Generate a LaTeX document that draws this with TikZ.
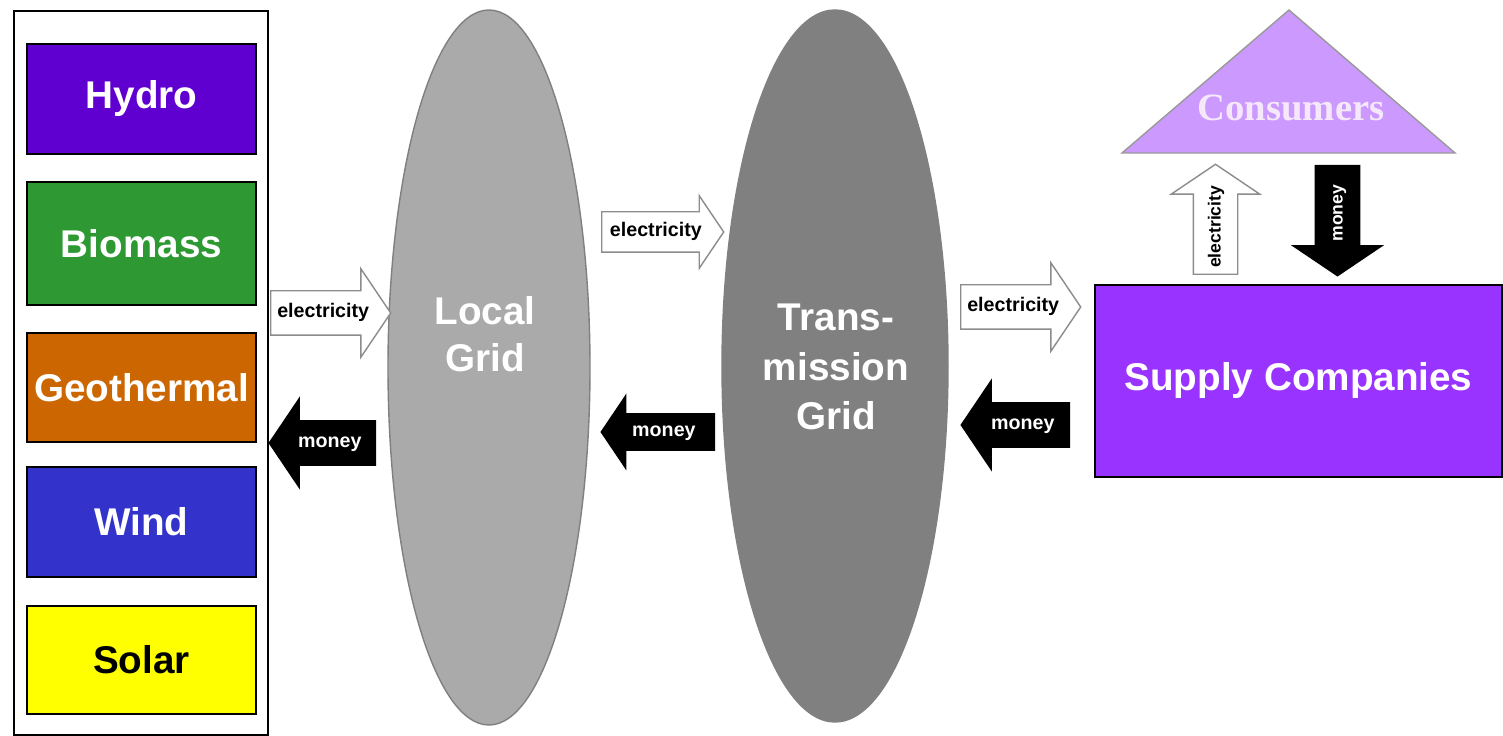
\documentclass[tikz,border=0pt]{standalone}
\usepackage{fontspec}
\setmainfont{Liberation Sans}
\newfontfamily\consfont{Liberation Serif}
\usepackage{tikz}
\usetikzlibrary{shapes.geometric}
\usetikzlibrary{shapes.arrows}
\usetikzlibrary{positioning}
\definecolor{src-hydro}{HTML}{6000D0}
\definecolor{src-biomass}{HTML}{2E9933}
\definecolor{src-geo}{HTML}{CC6600}
\definecolor{src-wind}{HTML}{3333CC}
\definecolor{src-solar}{HTML}{FFFF00}
\definecolor{grid-local}{HTML}{AAAAAA}
\definecolor{grid-trans}{HTML}{808080}
\definecolor{supply-fill}{HTML}{9933FF}
\definecolor{cons-fill}{HTML}{CC99FF}
\definecolor{cons-text}{HTML}{F5E8FA}

\begin{document}
\begin{tikzpicture}[
    source/.style={rectangle, draw=black, semithick, inner xsep=0pt, minimum width=2.29cm, text=white, font=\fontsize{11}{13}\selectfont\bfseries},
    gridnode/.style={ellipse, draw=black!50, inner sep=0pt},
    gridtext/.style={align=center, text=white, font=\fontsize{11}{13.5}\selectfont\bfseries},
    flow/.style={single arrow, single arrow tip angle=112, anchor=tail, text height=1.3mm, text depth=0.3mm, inner xsep=0pt, inner ysep=1.35mm, single arrow head extend=2.2mm, font=\fontsize{5.6}{6}\selectfont\bfseries},
    elec/.style={flow, draw=black!45, fill=white, text=black},
    cash/.style={flow, draw=black, fill=black, text=white}
]
    \fill[white] (0,0) rectangle (15.03,7.36);
    \useasboundingbox (0,0) rectangle (15.03,7.36);

    % Sources
    \node[draw=black, semithick, minimum width=2.54cm, minimum height=7.24cm] (sources) at (1.41,3.63) {};
    \node[source, fill=src-hydro, minimum height=1.10cm] (hydro) at (1.415,6.37) {Hydro};
    \node[source, fill=src-biomass, minimum height=1.23cm] (biomass) at (1.415,4.925) {Biomass};
    \node[source, fill=src-geo, minimum height=1.09cm] (geo) at (1.415,3.485) {Geothermal};
    \node[source, fill=src-wind, minimum height=1.10cm] (wind) at (1.415,2.14) {Wind};
    \node[source, fill=src-solar, text=black, minimum height=1.08cm] (solar) at (1.415,0.76) {Solar};

    % Grids
    \node[gridnode, fill=grid-local, minimum width=2.02cm, minimum height=7.15cm] (local) at (4.89,3.685) {};
    \node[gridtext] (localtext) at (4.85,4.02) {Local\\Grid};
    \node[gridnode, fill=grid-trans, minimum width=2.26cm, minimum height=7.12cm] (trans) at (8.35,3.70) {};
    \node[gridtext, font=\fontsize{11}{14}\selectfont\bfseries] (transtext) at (8.36,3.69) {Trans-\\mission\\Grid};

    % Supply and consumers
    \node[rectangle, draw=black, semithick, fill=supply-fill, minimum width=4.07cm, minimum height=1.92cm, text=white, font=\fontsize{11}{13}\selectfont\bfseries] (supply) at (12.985,3.55) {Supply Companies};
    \coordinate (cleft) at (11.22,5.83);
    \coordinate (capex) at (12.89,7.26);
    \coordinate (cright) at (14.55,5.83);
    \fill[cons-fill, draw=black!40] (cleft) -- (capex) -- (cright) -- cycle;
    \node[text=cons-text, font=\consfont\bfseries\fontsize{11}{13}\selectfont] (consumers) at (12.91,6.28) {Consumers};

    % Flows
    \node[elec, minimum height=1.20cm] (elec1) at (2.70,4.23) {electricity};
    \node[cash, shape border rotate=180, minimum height=1.06cm] (cash1) at (3.76,2.93) {money};
    \node[elec, inner ysep=1.15mm, single arrow head extend=1.6mm, minimum height=1.22cm] (elec2) at (6.01,5.04) {electricity};
    \node[cash, shape border rotate=180, inner ysep=0.95mm, single arrow head extend=1.8mm, minimum height=1.13cm] (cash2) at (7.15,3.04) {money};
    \node[elec, minimum height=1.20cm] (elec3) at (9.60,4.29) {electricity};
    \node[cash, shape border rotate=180, minimum height=1.08cm] (cash3) at (10.70,3.11) {money};
    \node[elec, rotate=90, font=\fontsize{5}{6}\selectfont\bfseries, minimum height=1.10cm] (elec4) at (12.155,4.61) {electricity};
    \node[cash, rotate=90, shape border rotate=180, font=\fontsize{5}{6}\selectfont\bfseries, minimum height=1.10cm] (cash4) at (13.375,5.71) {money};
\end{tikzpicture}
\end{document}
